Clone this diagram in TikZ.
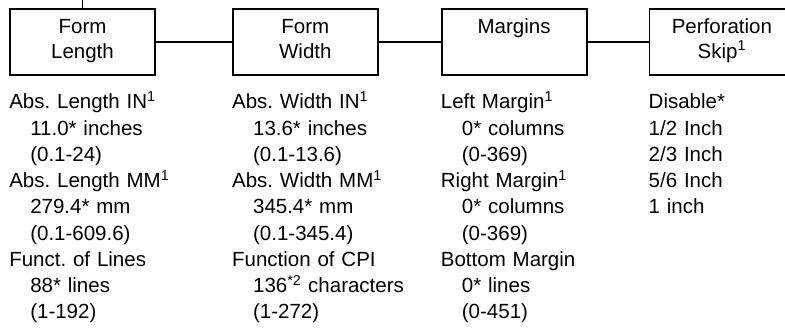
\documentclass[tikz,border=0pt]{standalone}
\usepackage{fontspec}
\setmainfont{Liberation Sans}
\usetikzlibrary{positioning}
\newcommand{\ind}{\hspace*{21bp}}
\frenchspacing

\begin{document}
\begin{tikzpicture}[x=1bp, y=1bp,
  menu/.style={draw, line width=1.8bp, inner sep=0pt, text width=145bp, align=center, text height=24bp, text depth=42bp, font=\fontsize{20.5bp}{25bp}\selectfont},
  opts/.style={inner sep=0pt, text width=200bp, align=left, anchor=base west, font=\fontsize{20.5bp}{26.25bp}\selectfont},
  link/.style={line width=1.8bp} ]
\useasboundingbox (0,0) rectangle (785,327);
		% Menu boxes
		\node[menu] (len) at (82.5,285) {Form\\Length};
		\node[menu, right=76bp of len] (wid) {Form\\Width};
		\node[menu, right=62bp of wid] (marg) {Margins};
		\node[menu, right=61bp of marg] (perf) {Perforation\\Skip\textsuperscript{1}};
		% Links between menus
		\coordinate (feed) at (len.north |- 0,327);
		\draw[link] (feed) -- (len.north);
		\draw[link] (len.east) -- (wid.west);
		\draw[link] (wid.east) -- (marg.west);
		\draw[link] (marg.east) -- (perf.west);
		% Options under each menu
		\node[opts] (lenopts) at ([yshift=-33bp]len.south west) {Abs. Length IN\textsuperscript{1}\\\ind 11.0* inches\\\ind (0.1-24)\\Abs. Length MM\textsuperscript{1}\\\ind 279.4* mm\\\ind (0.1-609.6)\\Funct. of Lines\\\ind 88* lines\\\ind (1-192)};
		\node[opts] (widopts) at ([yshift=-33bp]wid.south west) {Abs. Width IN\textsuperscript{1}\\\ind 13.6* inches\\\ind (0.1-13.6)\\Abs. Width MM\textsuperscript{1}\\\ind 345.4* mm\\\ind (0.1-345.4)\\Function of CPI\\\ind 136\textsuperscript{*2} characters\\\ind (1-272)};
		\node[opts] (margopts) at ([yshift=-33bp]marg.south west) {Left Margin\textsuperscript{1}\\\ind 0* columns\\\ind (0-369)\\Right Margin\textsuperscript{1}\\\ind 0* columns\\\ind (0-369)\\Bottom Margin\\\ind 0* lines\\\ind (0-451)};
		\node[opts] (perfopts) at ([yshift=-33bp]perf.south west) {Disable*\\1/2 Inch\\2/3 Inch\\5/6 Inch\\1 inch};
\end{tikzpicture}
\end{document}
